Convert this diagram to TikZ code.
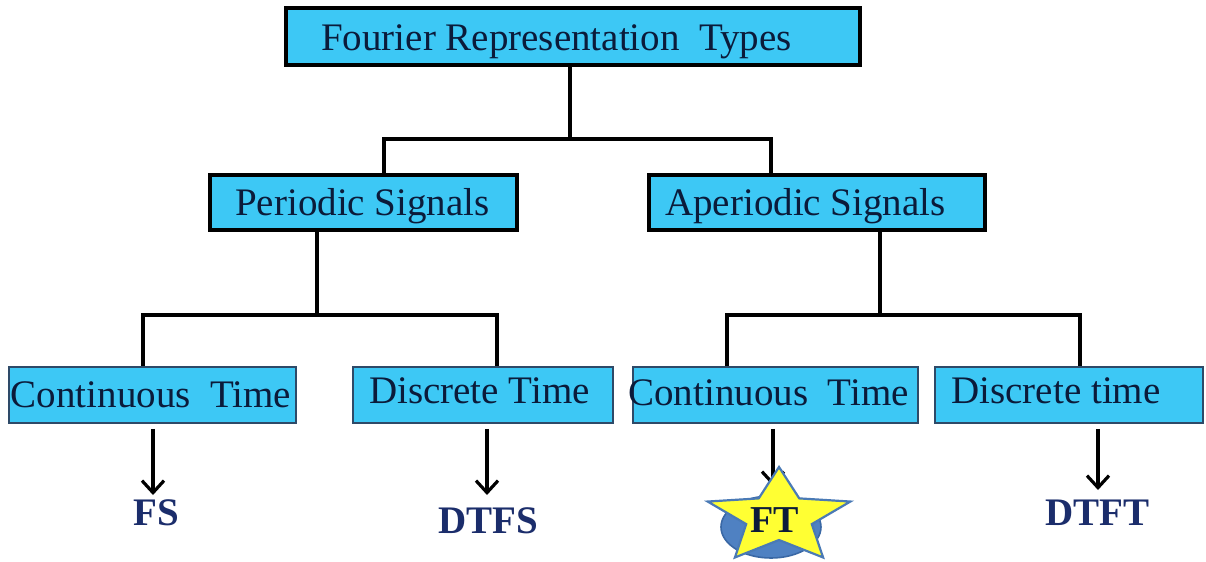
\documentclass[tikz,border=0pt]{standalone}
\usepackage{fontspec}
\setmainfont{Liberation Serif}
\usetikzlibrary{arrows.meta,shapes.geometric}
\definecolor{boxfill}{HTML}{3DC8F5}
\definecolor{txt}{HTML}{0B1B3A}
\definecolor{lbl}{HTML}{1B2D6B}
\definecolor{thinb}{HTML}{2E4A68}
\definecolor{staryel}{HTML}{FFFF33}
\definecolor{starbd}{HTML}{4A7AB5}
\definecolor{ellfill}{HTML}{4F81C2}
\definecolor{ellbd}{HTML}{3A68A5}
\begin{document}
\begin{tikzpicture}[x=0.5pt,y=-0.5pt,
  thickbox/.style={draw=black, line width=1.8pt, fill=boxfill, inner sep=0pt},
  thinbox/.style={draw=thinb, line width=0.8pt, fill=boxfill, inner sep=0pt},
  boxtext/.style={anchor=base, inner sep=0pt, text=txt, font=\fontsize{19.5}{22}\selectfont},
  result/.style={anchor=base, inner sep=0pt, text=lbl, font=\fontsize{19.5}{22}\selectfont\bfseries},
  conn/.style={line width=1.6pt, draw=black},
  arr/.style={conn, -{Straight Barb[length=6pt,width=11pt,line width=1.6pt]}}]

\useasboundingbox (0,0) rectangle (1206,562);

% boxes
\node[thickbox, minimum width=287pt, minimum height=28.5pt] (top) at (573,36.5) {};
\node[thickbox, minimum width=153.5pt, minimum height=27.5pt] (per) at (363.5,202.5) {};
\node[thickbox, minimum width=168pt, minimum height=27.5pt] (aper) at (817,202.5) {};
\node[thinbox, minimum width=143.5pt, minimum height=28pt] (ct1) at (152.5,395) {};
\node[thinbox, minimum width=130pt, minimum height=28pt] (dt1) at (483,395) {};
\node[thinbox, minimum width=142.5pt, minimum height=28pt] (ct2) at (775.5,395) {};
\node[thinbox, minimum width=134pt, minimum height=28pt] (dt2) at (1069,395) {};

% box texts
\node[boxtext] (t0) at (556.5,50) {Fourier Representation\ \ Types};
\node[boxtext] (t1) at (362.5,215) {Periodic Signals};
\node[boxtext] (t2) at (805.5,215) {Aperiodic Signals};
\node[boxtext] (t3) at (151,407) {Continuous\ \ Time};
\node[boxtext] (t4) at (479.5,403) {Discrete Time};
\node[boxtext] (t5) at (768.5,405) {Continuous\ \ Time};
\node[boxtext] (t6) at (1056,403) {Discrete time};

% tree connectors
\coordinate (j0) at (570,139);
\coordinate (jl) at (384,139);
\coordinate (jr) at (771,139);
\draw[conn] (j0 |- top.south) -- (j0);
\draw[conn] (jl |- per.north) -- (jl) -- (jr) -- (jr |- aper.north);

\coordinate (kp) at (317,315);
\coordinate (kl) at (143,315);
\coordinate (kr) at (497,315);
\draw[conn] (kp |- per.south) -- (kp);
\draw[conn] (kl |- ct1.north) -- (kl) -- (kr) -- (kr |- dt1.north);

\coordinate (ka) at (880,315);
\coordinate (kl2) at (727,315);
\coordinate (kr2) at (1080,315);
\draw[conn] (ka |- aper.south) -- (ka);
\draw[conn] (kl2 |- ct2.north) -- (kl2) -- (kr2) -- (kr2 |- dt2.north);

% results
\coordinate (e1) at (153,495);
\coordinate (e2) at (487,495);
\coordinate (e3) at (773,486);
\coordinate (e4) at (1098,490);
\draw[arr, shorten <=2.5pt] (e1 |- ct1.south) -- (e1);
\draw[arr, shorten <=2.5pt] (e2 |- dt1.south) -- (e2);
\draw[arr, shorten <=2.5pt] (e4 |- dt2.south) -- (e4);

\node[result] (fs) at (156,525) {FS};
\node[result] (dtfs) at (488,533) {DTFS};
\node[result] (dtft) at (1097,525) {DTFT};

% FT with ellipse and star
\node[ellipse, fill=ellfill, draw=ellbd, line width=0.8pt, minimum width=50pt, minimum height=31pt, inner sep=0pt] (ell) at (771,527) {};
\draw[arr, shorten <=2.5pt] (e3 |- ct2.south) -- (e3);
\begin{scope}[shift={(779,517)}]
  \begin{scope}[x=37.5pt,y=25pt]
    \draw[fill=staryel, draw=starbd, line width=1.1pt, line join=miter]
      (90:1) -- (126:0.46) -- (162:1) -- (198:0.46) -- (234:1) -- (270:0.46)
      -- (306:1) -- (342:0.46) -- (18:1) -- (54:0.46) -- cycle;
  \end{scope}
\end{scope}
\node[result, text=txt, font=\fontsize{19}{22}\selectfont\bfseries] (ft) at (775,532) {FT};
\end{tikzpicture}
\end{document}
